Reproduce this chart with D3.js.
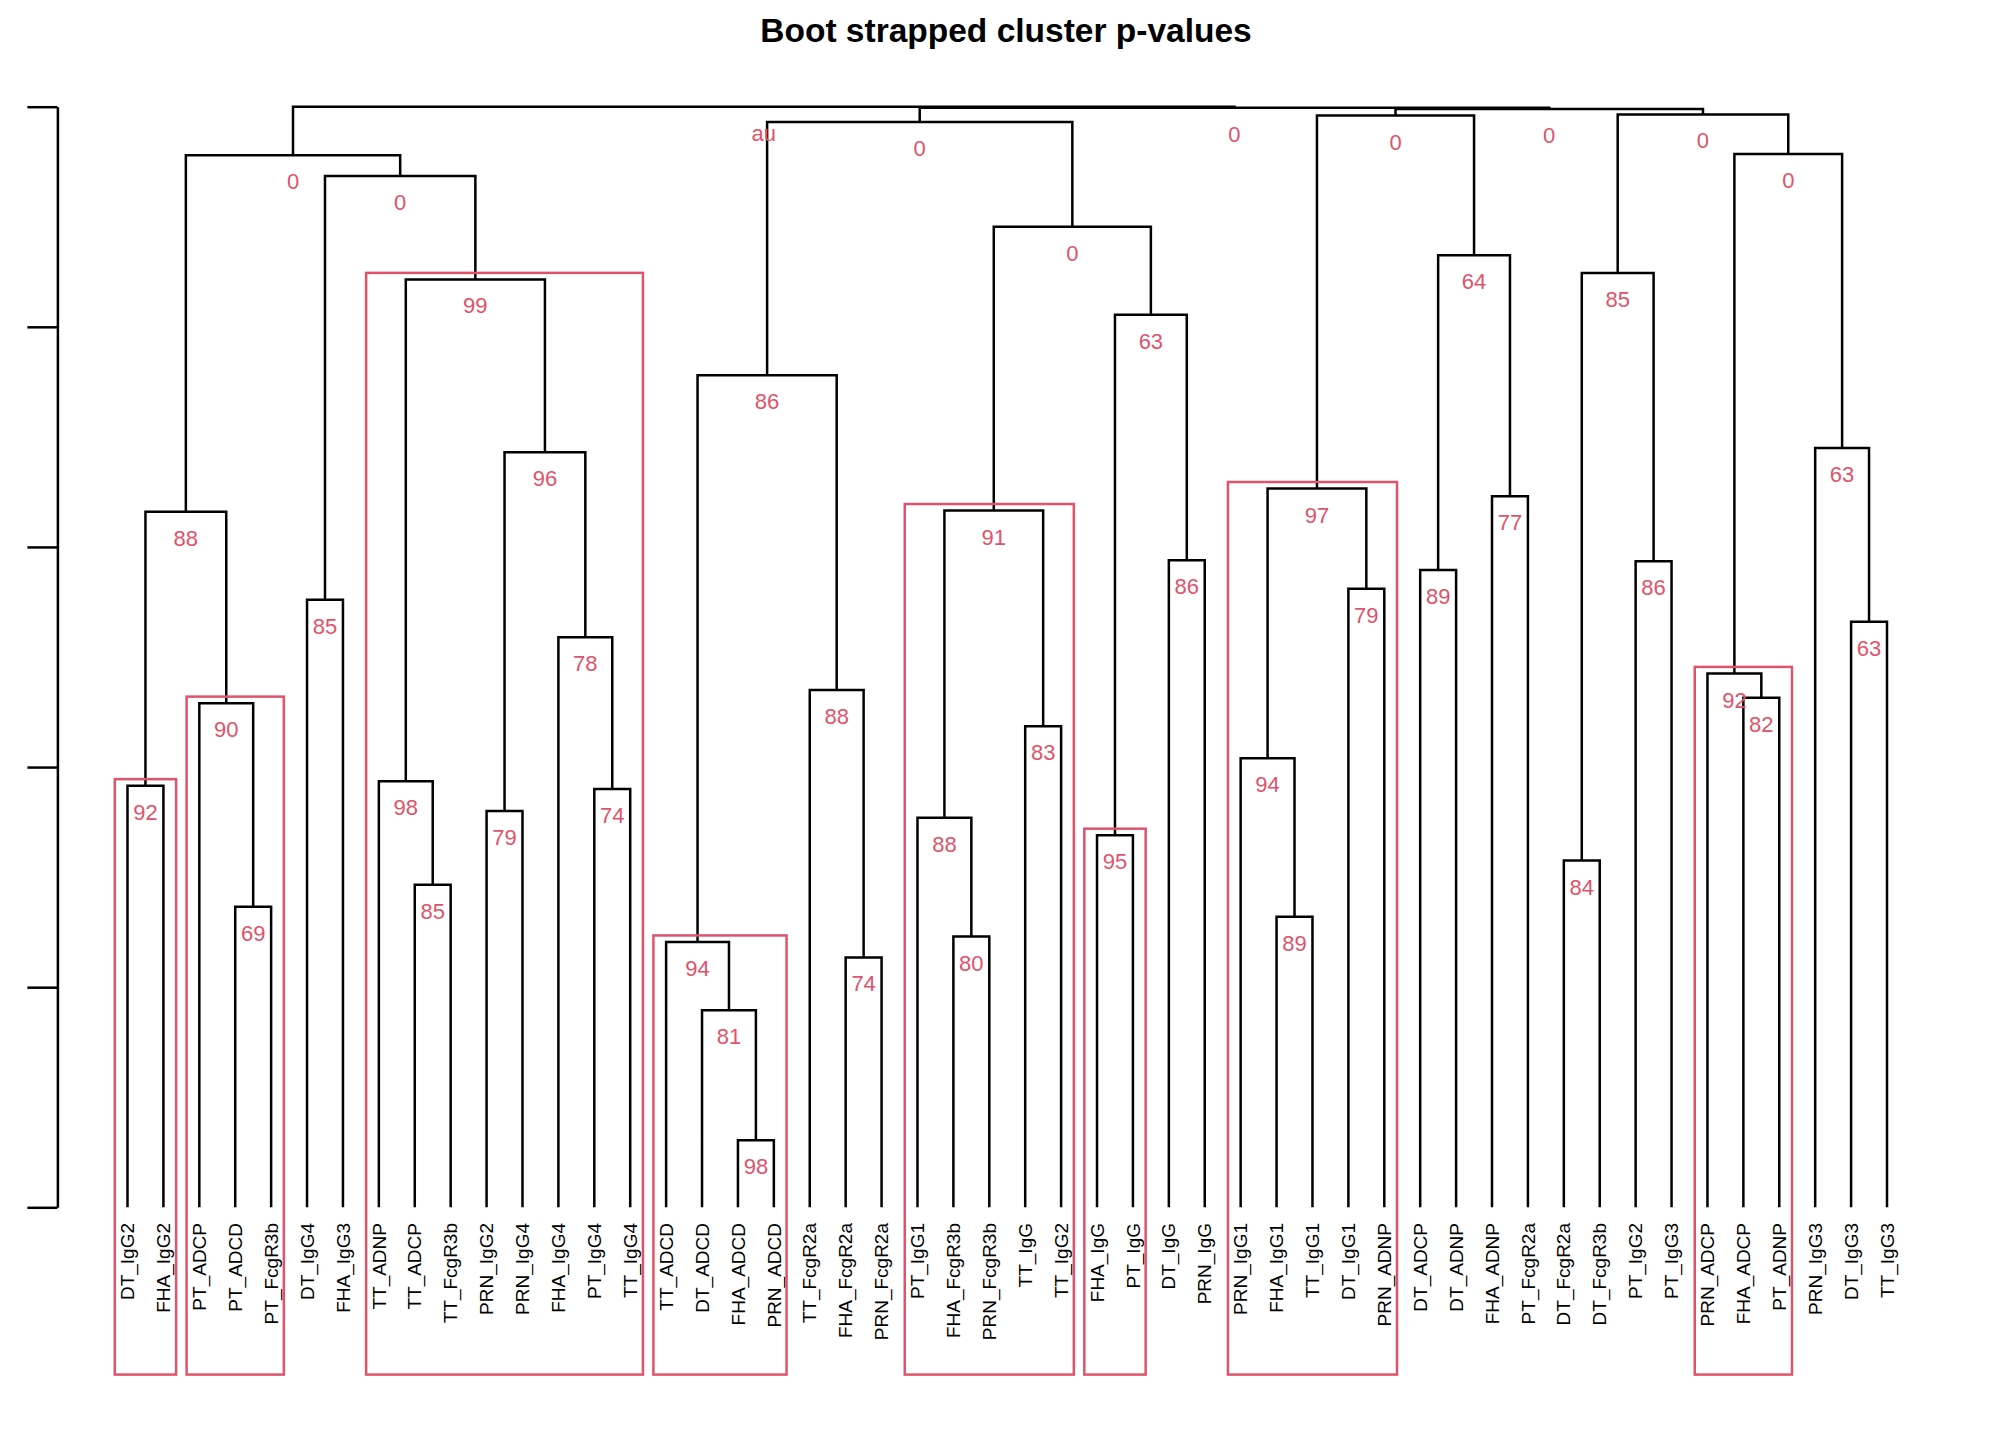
<!DOCTYPE html>
<html>
<head>
<meta charset="utf-8">
<script src="https://cdn.jsdelivr.net/npm/d3@7"></script>
<style>
  body { margin: 0; background: #fff; }
  text { font-family: "Liberation Sans", Arial, sans-serif; }
</style>
</head>
<body>
<div class="canvas"></div>
<script>
// leaf order as drawn (left -> right)
var leafLabels = [
  "DT_IgG2", "FHA_IgG2", "PT_ADCP", "PT_ADCD", "PT_FcgR3b", "DT_IgG4", "FHA_IgG3",
  "TT_ADNP", "TT_ADCP", "TT_FcgR3b", "PRN_IgG2", "PRN_IgG4", "FHA_IgG4", "PT_IgG4", "TT_IgG4",
  "TT_ADCD", "DT_ADCD", "FHA_ADCD", "PRN_ADCD", "TT_FcgR2a", "FHA_FcgR2a", "PRN_FcgR2a",
  "PT_IgG1", "FHA_FcgR3b", "PRN_FcgR3b", "TT_IgG", "TT_IgG2", "FHA_IgG", "PT_IgG", "DT_IgG", "PRN_IgG",
  "PRN_IgG1", "FHA_IgG1", "TT_IgG1", "DT_IgG1", "PRN_ADNP", "DT_ADCP", "DT_ADNP", "FHA_ADNP",
  "PT_FcgR2a", "DT_FcgR2a", "DT_FcgR3b", "PT_IgG2", "PT_IgG3", "PRN_ADCP", "FHA_ADCP", "PT_ADNP",
  "PRN_IgG3", "DT_IgG3", "TT_IgG3"
];

// hclust style merges: negative = leaf number, positive = earlier merge
var mergeLeft  = [ -1, -4, -3,  1, -6, -9, -8, -11, -14, -13,  8,  7,  5,  4,
                  -18, -17, -16, -21, -20, 17, -24, -23, -26, 22, -28, -30, 25, 24, 20,
                  -33, -32, -35, 31, -37, -39, 34, 33, -41, -43, 38, -46, -45, -49, -48, 42, 40, 37, 29, 14];
var mergeRight = [ -2, -5,  2,  3, -7, -10,  6, -12, -15,  9, 10, 11, 12, 13,
                  -19, 15, 16, -22, 18, 19, -25, 21, -27, 23, -29, -31, 26, 27, 28,
                  -34, 30, -36, 32, -38, -40, 35, 36, -42, -44, 39, -47, 41, -50, 43, 44, 45, 46, 47, 48];
var mergeHeight = [0.383, 0.273, 0.458, 0.632, 0.552, 0.293, 0.387, 0.360, 0.380, 0.518, 0.686, 0.843, 0.937, 0.956,
                   0.061, 0.179, 0.241, 0.227, 0.470, 0.756, 0.246, 0.354, 0.437, 0.633, 0.338, 0.588, 0.811, 0.891, 0.986,
                   0.264, 0.408, 0.562, 0.653, 0.579, 0.646, 0.865, 0.992, 0.315, 0.587, 0.849, 0.463, 0.485, 0.532, 0.690,
                   0.957, 0.993, 0.998, 0.999, 1.000];
var mergeAU = [92, 69, 90, 88, 85, 85, 98, 79, 74, 78, 96, 99, 0, 0,
               98, 81, 94, 74, 88, 86, 80, 88, 83, 91, 95, 86, 63, 0, 0,
               89, 94, 79, 97, 89, 77, 64, 0, 84, 86, 85, 82, 92, 63, 63,
               0, 0, 0, 0, 100];
var axisTicks = [0, 0.2, 0.4, 0.6, 0.8, 1.0];
var titleText = "Boot strapped cluster p-values";
var alpha = 90;

var width = 2016;
var height = 1440;
var pvColor = "#DF536B";

var x = d3.scaleLinear().domain([1, leafLabels.length]).range([127.5, 1887]);
var y = d3.scaleLinear().domain([0, 1]).range([1207.3, 106.7]);

var usrBottom = -0.158;   // lower edge of the plot region (data units)
var mx = 0.354;           // pvrect side margin, in leaf units
var my = 0.006;           // pvrect top margin, in height units

// build the tree from the merge table
var nodes = [];
function ref(k) {
  return k < 0 ? { name: leafLabels[-k - 1], leaf: -k, height: 0 } : nodes[k - 1];
}
for (var i = 0; i < mergeLeft.length; i++) {
  nodes.push({ id: i + 1, height: mergeHeight[i], au: mergeAU[i],
               children: [ref(mergeLeft[i]), ref(mergeRight[i])] });
}
var root = d3.hierarchy(nodes[nodes.length - 1]);

root.eachAfter(function(n) {
  if (!n.children) {
    n.px = x(n.data.leaf);
    n.lo = n.data.leaf;
    n.hi = n.data.leaf;
  } else {
    n.px = d3.mean(n.children, function(c) { return c.px; });
    n.lo = d3.min(n.children, function(c) { return c.lo; });
    n.hi = d3.max(n.children, function(c) { return c.hi; });
  }
  n.py = y(n.data.height);
});

var svg = d3.select(".canvas")
  .append("svg")
    .attr("width", width)
    .attr("height", height);

// title
svg.append("text")
  .attr("x", 1006)
  .attr("y", 41.7)
  .attr("text-anchor", "middle")
  .attr("font-weight", "bold")
  .attr("font-size", "33.5px")
  .text(titleText);

// height axis (no labels, as in the original)
var ax = svg.append("g")
  .attr("transform", "translate(57.4,0)")
  .call(d3.axisLeft(y).tickValues(axisTicks).tickSize(30).tickSizeOuter(0).tickFormat(""));
ax.select(".domain").attr("stroke", "#000").attr("stroke-width", 2.5);
ax.selectAll(".tick line").attr("stroke", "#000").attr("stroke-width", 2.5);

// dendrogram branches
var internal = root.descendants().filter(function(n) { return n.children; });
svg.append("g")
  .selectAll("path")
  .data(internal)
  .enter()
  .append("path")
    .attr("fill", "none")
    .attr("stroke", "#000")
    .attr("stroke-width", 2.5)
    .attr("d", function(n) {
      var a = n.children[0], b = n.children[1];
      return "M" + a.px + "," + a.py + "V" + n.py + "H" + b.px + "V" + b.py;
    });

// au values
svg.append("g")
  .selectAll("text")
  .data(internal)
  .enter()
  .append("text")
    .attr("x", function(n) { return n.px; })
    .attr("y", function(n) { return n.py + 34; })
    .attr("text-anchor", "middle")
    .attr("font-size", "22px")
    .attr("fill", pvColor)
    .text(function(n) { return n === root ? "au" : n.data.au; });

// leaf labels
svg.append("g")
  .selectAll("text")
  .data(root.leaves())
  .enter()
  .append("text")
    .attr("transform", function(n) { return "translate(" + n.px + ",1223) rotate(-90)"; })
    .attr("dy", "0.35em")
    .attr("text-anchor", "end")
    .attr("font-size", "19px")
    .attr("fill", "#000")
    .text(function(n) { return n.data.name; });

// pvrect: largest clusters with au >= alpha
var boxes = [];
function findBoxes(n) {
  if (!n.children) return;
  if (n !== root && n.data.au >= alpha) { boxes.push(n); return; }
  n.children.forEach(findBoxes);
}
findBoxes(root);

svg.append("g")
  .selectAll("rect")
  .data(boxes)
  .enter()
  .append("rect")
    .attr("x", function(n) { return x(n.lo - mx); })
    .attr("y", function(n) { return y(n.data.height + my); })
    .attr("width", function(n) { return x(n.hi + mx) - x(n.lo - mx); })
    .attr("height", function(n) { return y(usrBottom + my) - y(n.data.height + my); })
    .attr("fill", "none")
    .attr("stroke", pvColor)
    .attr("stroke-width", 2.5);
</script>
</body>
</html>
